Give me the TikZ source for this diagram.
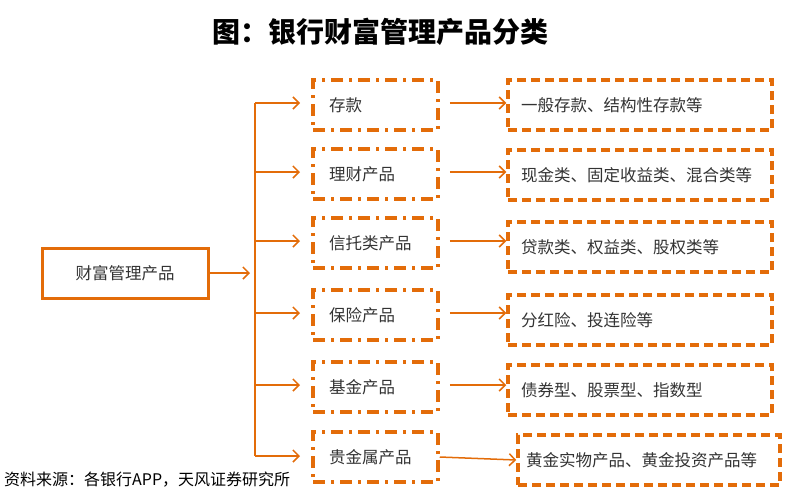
\documentclass[tikz,border=0pt]{standalone}
\usepackage{fontspec}
\setmainfont{Noto Sans CJK SC}
\usetikzlibrary{arrows.meta}
\definecolor{org}{HTML}{E36C09}
\begin{document}
\begin{tikzpicture}[x=1pt,y=-1pt,
 base/.style={draw=org,line width=3.5pt,minimum height=50pt,inner sep=0pt,font=\fontsize{16.5}{18}\selectfont,text=black!80},
 mid/.style={base,minimum width=125pt,dash pattern=on 12pt off 6pt on 3pt off 6pt},
 rt/.style={base,minimum width=264pt,dash pattern=on 9pt off 5pt},
 arr/.style={draw=org,line width=1.5pt,-{Straight Barb[length=6pt,width=12pt]}}]
\useasboundingbox (0,0) rectangle (797,496);
\node[font=\fontsize{28}{30}\selectfont\bfseries] (t) at (380,32) {图：银行财富管理产品分类};
\node[base,solid,line width=3pt,minimum width=166pt] (L) at (125,273) {财富管理产品};
\draw[arr] (L.east) -- (250,273);
\foreach \i/\y/\ry/\a/\b in {1/105/105/存款/一般存款、结构性存款等,2/174/175/理财产品/现金类、固定收益类、混合类等,3/243/247/信托类产品/贷款类、权益类、股权类等,4/315/320/保险产品/分红险、投连险等,5/387/390/基金产品/债券型、股票型、指数型}{
 \node[mid,text width=93pt,align=left] (m\i) at (375.5,\y) {\a};
 \node[rt,text width=238pt,align=left] (r\i) at (640,\ry) {\b};
 \coordinate (b\i) at (255,\y-2);
 \draw[arr] (b\i) -- (300,\y-2);
 \draw[arr] (m\i.east)++(10,-2) -- (r\i.west |- 0,\y-2);
}
\node[mid,text width=93pt,align=left] (m6) at (375.5,457) {贵金属产品};
\node[rt,minimum width=262pt,text width=246pt,align=left] (r6) at (649,460) {黄金实物产品、黄金投资产品等};
\coordinate (b6) at (255,456);
\draw[arr] (b6) -- (300,456);
\draw[arr] (m6.east) -- (r6.west);
\draw[draw=org,line width=1.5pt] (b1) -- (b6);
\node[anchor=west,font=\fontsize{16}{18}\selectfont,fill=white,inner sep=1pt] (src) at (3,480) {资料来源：各银行APP，天风证券研究所};
\end{tikzpicture}
\end{document}
